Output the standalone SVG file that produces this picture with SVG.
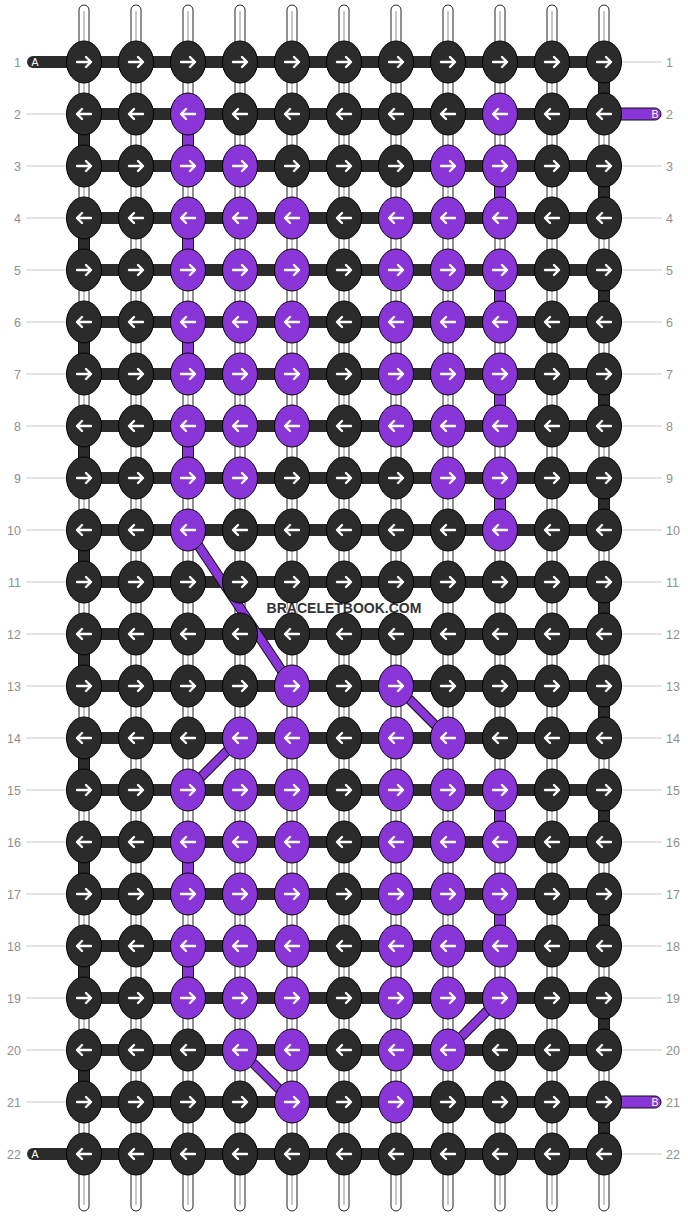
<svg xmlns="http://www.w3.org/2000/svg" width="688" height="1216" viewBox="0 0 688 1216">
<style>
.st{fill:#fff;stroke:#222;stroke-width:1}
.sl{stroke:#c8c8c8;stroke-width:2}
.bar{fill:#2b2b2b}
.vd{fill:#2b2b2b;stroke:#111;stroke-width:1}
.vp{fill:#8a35d8;stroke:#111;stroke-width:1}
.dgo{stroke:#111;stroke-width:10;stroke-linecap:butt}
.dgi{stroke:#8a35d8;stroke-width:8;stroke-linecap:butt}
.kd{fill:#2b2b2b;stroke:#000;stroke-width:1}
.kp{fill:#8a35d8;stroke:#000;stroke-width:1}
.ar{fill:none;stroke:#fff;stroke-width:2.4;stroke-linecap:round;stroke-linejoin:round}
.lab{font-family:"Liberation Sans",Arial,sans-serif;font-size:12.5px;fill:#909090}
.ll{stroke:#c8c8c8;stroke-width:1}
.tab{font-family:"Liberation Sans",Arial,sans-serif;font-size:10.5px;fill:#fff}
.wm{font-family:"Liberation Sans",Arial,sans-serif;font-size:14px;font-weight:bold;fill:#333;stroke:#fff;stroke-width:2;paint-order:stroke;text-anchor:middle}
</style>
<defs>
<g id="dR"><ellipse rx="17.5" ry="21" class="kd"/><path class="ar" d="M-7,0H7M2,-5L7,0L2,5"/></g>
<g id="dL"><ellipse rx="17.5" ry="21" class="kd"/><path class="ar" d="M7,0H-7M-2,-5L-7,0L-2,5"/></g>
<g id="pR"><ellipse rx="17.5" ry="21" class="kp"/><path class="ar" d="M-7,0H7M2,-5L7,0L2,5"/></g>
<g id="pL"><ellipse rx="17.5" ry="21" class="kp"/><path class="ar" d="M7,0H-7M-2,-5L-7,0L-2,5"/></g>
</defs>
<rect width="688" height="1216" fill="#fff"/>
<g id="labels">
<g class="ll">
<line x1="26" y1="114" x2="66" y2="114"/><line x1="26" y1="166" x2="66" y2="166"/><line x1="26" y1="218" x2="66" y2="218"/><line x1="26" y1="270" x2="66" y2="270"/><line x1="26" y1="322" x2="66" y2="322"/><line x1="26" y1="374" x2="66" y2="374"/><line x1="26" y1="426" x2="66" y2="426"/><line x1="26" y1="478" x2="66" y2="478"/><line x1="26" y1="530" x2="66" y2="530"/><line x1="26" y1="582" x2="66" y2="582"/><line x1="26" y1="634" x2="66" y2="634"/><line x1="26" y1="686" x2="66" y2="686"/><line x1="26" y1="738" x2="66" y2="738"/><line x1="26" y1="790" x2="66" y2="790"/><line x1="26" y1="842" x2="66" y2="842"/><line x1="26" y1="894" x2="66" y2="894"/><line x1="26" y1="946" x2="66" y2="946"/><line x1="26" y1="998" x2="66" y2="998"/><line x1="26" y1="1050" x2="66" y2="1050"/><line x1="26" y1="1102" x2="66" y2="1102"/>
<line x1="622" y1="62" x2="662" y2="62"/><line x1="622" y1="166" x2="662" y2="166"/><line x1="622" y1="218" x2="662" y2="218"/><line x1="622" y1="270" x2="662" y2="270"/><line x1="622" y1="322" x2="662" y2="322"/><line x1="622" y1="374" x2="662" y2="374"/><line x1="622" y1="426" x2="662" y2="426"/><line x1="622" y1="478" x2="662" y2="478"/><line x1="622" y1="530" x2="662" y2="530"/><line x1="622" y1="582" x2="662" y2="582"/><line x1="622" y1="634" x2="662" y2="634"/><line x1="622" y1="686" x2="662" y2="686"/><line x1="622" y1="738" x2="662" y2="738"/><line x1="622" y1="790" x2="662" y2="790"/><line x1="622" y1="842" x2="662" y2="842"/><line x1="622" y1="894" x2="662" y2="894"/><line x1="622" y1="946" x2="662" y2="946"/><line x1="622" y1="998" x2="662" y2="998"/><line x1="622" y1="1050" x2="662" y2="1050"/><line x1="622" y1="1154" x2="662" y2="1154"/>
</g>
<g class="lab" text-anchor="end">
<text x="21" y="66.5">1</text><text x="21" y="118.5">2</text><text x="21" y="170.5">3</text><text x="21" y="222.5">4</text><text x="21" y="274.5">5</text><text x="21" y="326.5">6</text><text x="21" y="378.5">7</text><text x="21" y="430.5">8</text><text x="21" y="482.5">9</text><text x="21" y="534.5">10</text><text x="21" y="586.5">11</text><text x="21" y="638.5">12</text><text x="21" y="690.5">13</text><text x="21" y="742.5">14</text><text x="21" y="794.5">15</text><text x="21" y="846.5">16</text><text x="21" y="898.5">17</text><text x="21" y="950.5">18</text><text x="21" y="1002.5">19</text><text x="21" y="1054.5">20</text><text x="21" y="1106.5">21</text><text x="21" y="1158.5">22</text>
</g>
<g class="lab" text-anchor="start">
<text x="666" y="66.5">1</text><text x="666" y="118.5">2</text><text x="666" y="170.5">3</text><text x="666" y="222.5">4</text><text x="666" y="274.5">5</text><text x="666" y="326.5">6</text><text x="666" y="378.5">7</text><text x="666" y="430.5">8</text><text x="666" y="482.5">9</text><text x="666" y="534.5">10</text><text x="666" y="586.5">11</text><text x="666" y="638.5">12</text><text x="666" y="690.5">13</text><text x="666" y="742.5">14</text><text x="666" y="794.5">15</text><text x="666" y="846.5">16</text><text x="666" y="898.5">17</text><text x="666" y="950.5">18</text><text x="666" y="1002.5">19</text><text x="666" y="1054.5">20</text><text x="666" y="1106.5">21</text><text x="666" y="1158.5">22</text>
</g>
</g>
<g id="strands">
<rect class="st" x="79" y="5" width="10" height="1206" rx="5"/><rect class="st" x="131" y="5" width="10" height="1206" rx="5"/><rect class="st" x="183" y="5" width="10" height="1206" rx="5"/><rect class="st" x="235" y="5" width="10" height="1206" rx="5"/><rect class="st" x="287" y="5" width="10" height="1206" rx="5"/><rect class="st" x="339" y="5" width="10" height="1206" rx="5"/><rect class="st" x="391" y="5" width="10" height="1206" rx="5"/><rect class="st" x="443" y="5" width="10" height="1206" rx="5"/><rect class="st" x="495" y="5" width="10" height="1206" rx="5"/><rect class="st" x="547" y="5" width="10" height="1206" rx="5"/><rect class="st" x="599" y="5" width="10" height="1206" rx="5"/>
<g class="sl"><line x1="84" y1="11" x2="84" y2="1205"/><line x1="136" y1="11" x2="136" y2="1205"/><line x1="188" y1="11" x2="188" y2="1205"/><line x1="240" y1="11" x2="240" y2="1205"/><line x1="292" y1="11" x2="292" y2="1205"/><line x1="344" y1="11" x2="344" y2="1205"/><line x1="396" y1="11" x2="396" y2="1205"/><line x1="448" y1="11" x2="448" y2="1205"/><line x1="500" y1="11" x2="500" y2="1205"/><line x1="552" y1="11" x2="552" y2="1205"/><line x1="604" y1="11" x2="604" y2="1205"/></g>
</g>
<g id="connectors">
<g class="bar">
<rect x="84" y="56" width="520" height="12"/><rect x="84" y="108" width="520" height="12"/><rect x="84" y="160" width="520" height="12"/><rect x="84" y="212" width="520" height="12"/><rect x="84" y="264" width="520" height="12"/><rect x="84" y="316" width="520" height="12"/><rect x="84" y="368" width="520" height="12"/><rect x="84" y="420" width="520" height="12"/><rect x="84" y="472" width="520" height="12"/><rect x="84" y="524" width="520" height="12"/><rect x="84" y="576" width="520" height="12"/><rect x="84" y="628" width="520" height="12"/><rect x="84" y="680" width="520" height="12"/><rect x="84" y="732" width="520" height="12"/><rect x="84" y="784" width="520" height="12"/><rect x="84" y="836" width="520" height="12"/><rect x="84" y="888" width="520" height="12"/><rect x="84" y="940" width="520" height="12"/><rect x="84" y="992" width="520" height="12"/><rect x="84" y="1044" width="520" height="12"/><rect x="84" y="1096" width="520" height="12"/><rect x="84" y="1148" width="520" height="12"/>
</g>
<g id="tabA1"><rect class="bar" x="27" y="56" width="70" height="12" rx="6"/><text class="tab" x="31.5" y="65.8">A</text></g>
<g id="tabA22"><rect class="bar" x="27" y="1148" width="70" height="12" rx="6"/><text class="tab" x="31.5" y="1157.8">A</text></g>
<g id="tabB2"><rect class="vp" x="590" y="108" width="71" height="12" rx="6"/><text class="tab" x="651.5" y="117.8">B</text></g>
<g id="tabB21"><rect class="vp" x="590" y="1096" width="71" height="12" rx="6"/><text class="tab" x="651.5" y="1105.8">B</text></g>
<g class="vd">
<rect x="598.5" y="62" width="11" height="52"/><rect x="598.5" y="166" width="11" height="52"/><rect x="598.5" y="270" width="11" height="52"/><rect x="598.5" y="374" width="11" height="52"/><rect x="598.5" y="478" width="11" height="52"/><rect x="598.5" y="582" width="11" height="52"/><rect x="598.5" y="686" width="11" height="52"/><rect x="598.5" y="790" width="11" height="52"/><rect x="598.5" y="894" width="11" height="52"/><rect x="598.5" y="998" width="11" height="52"/><rect x="598.5" y="1102" width="11" height="52"/>
<rect x="78.5" y="114" width="11" height="52"/><rect x="78.5" y="218" width="11" height="52"/><rect x="78.5" y="322" width="11" height="52"/><rect x="78.5" y="426" width="11" height="52"/><rect x="78.5" y="530" width="11" height="52"/><rect x="78.5" y="634" width="11" height="52"/><rect x="78.5" y="738" width="11" height="52"/><rect x="78.5" y="842" width="11" height="52"/><rect x="78.5" y="946" width="11" height="52"/><rect x="78.5" y="1050" width="11" height="52"/>
</g>
<g class="vp">
<rect x="182.5" y="114" width="11" height="52"/><rect x="182.5" y="218" width="11" height="52"/><rect x="182.5" y="322" width="11" height="52"/><rect x="182.5" y="426" width="11" height="52"/>
<rect x="494.5" y="166" width="11" height="52"/><rect x="494.5" y="270" width="11" height="52"/><rect x="494.5" y="374" width="11" height="52"/><rect x="494.5" y="478" width="11" height="52"/>
<rect x="494.5" y="790" width="11" height="52"/><rect x="182.5" y="842" width="11" height="52"/><rect x="494.5" y="894" width="11" height="52"/><rect x="182.5" y="946" width="11" height="52"/>
</g>
<g class="dgo">
<line x1="188" y1="530" x2="292" y2="686"/><line x1="396" y1="686" x2="448" y2="738"/><line x1="240" y1="738" x2="188" y2="790"/><line x1="500" y1="998" x2="448" y2="1050"/><line x1="240" y1="1050" x2="292" y2="1102"/>
</g>
<g class="dgi">
<line x1="188" y1="530" x2="292" y2="686"/><line x1="396" y1="686" x2="448" y2="738"/><line x1="240" y1="738" x2="188" y2="790"/><line x1="500" y1="998" x2="448" y2="1050"/><line x1="240" y1="1050" x2="292" y2="1102"/>
</g>
</g>
<text class="wm" x="344" y="613">BRACELETBOOK.COM</text>
<g id="nodes">
<g id="n1-1"><use href="#dR" x="84" y="62"/></g><g id="n1-2"><use href="#dR" x="136" y="62"/></g><g id="n1-3"><use href="#dR" x="188" y="62"/></g><g id="n1-4"><use href="#dR" x="240" y="62"/></g><g id="n1-5"><use href="#dR" x="292" y="62"/></g><g id="n1-6"><use href="#dR" x="344" y="62"/></g><g id="n1-7"><use href="#dR" x="396" y="62"/></g><g id="n1-8"><use href="#dR" x="448" y="62"/></g><g id="n1-9"><use href="#dR" x="500" y="62"/></g><g id="n1-10"><use href="#dR" x="552" y="62"/></g><g id="n1-11"><use href="#dR" x="604" y="62"/></g>
<g id="n2-1"><use href="#dL" x="84" y="114"/></g><g id="n2-2"><use href="#dL" x="136" y="114"/></g><g id="n2-3"><use href="#pL" x="188" y="114"/></g><g id="n2-4"><use href="#dL" x="240" y="114"/></g><g id="n2-5"><use href="#dL" x="292" y="114"/></g><g id="n2-6"><use href="#dL" x="344" y="114"/></g><g id="n2-7"><use href="#dL" x="396" y="114"/></g><g id="n2-8"><use href="#dL" x="448" y="114"/></g><g id="n2-9"><use href="#pL" x="500" y="114"/></g><g id="n2-10"><use href="#dL" x="552" y="114"/></g><g id="n2-11"><use href="#dL" x="604" y="114"/></g>
<g id="n3-1"><use href="#dR" x="84" y="166"/></g><g id="n3-2"><use href="#dR" x="136" y="166"/></g><g id="n3-3"><use href="#pR" x="188" y="166"/></g><g id="n3-4"><use href="#pR" x="240" y="166"/></g><g id="n3-5"><use href="#dR" x="292" y="166"/></g><g id="n3-6"><use href="#dR" x="344" y="166"/></g><g id="n3-7"><use href="#dR" x="396" y="166"/></g><g id="n3-8"><use href="#pR" x="448" y="166"/></g><g id="n3-9"><use href="#pR" x="500" y="166"/></g><g id="n3-10"><use href="#dR" x="552" y="166"/></g><g id="n3-11"><use href="#dR" x="604" y="166"/></g>
<g id="n4-1"><use href="#dL" x="84" y="218"/></g><g id="n4-2"><use href="#dL" x="136" y="218"/></g><g id="n4-3"><use href="#pL" x="188" y="218"/></g><g id="n4-4"><use href="#pL" x="240" y="218"/></g><g id="n4-5"><use href="#pL" x="292" y="218"/></g><g id="n4-6"><use href="#dL" x="344" y="218"/></g><g id="n4-7"><use href="#pL" x="396" y="218"/></g><g id="n4-8"><use href="#pL" x="448" y="218"/></g><g id="n4-9"><use href="#pL" x="500" y="218"/></g><g id="n4-10"><use href="#dL" x="552" y="218"/></g><g id="n4-11"><use href="#dL" x="604" y="218"/></g>
<g id="n5-1"><use href="#dR" x="84" y="270"/></g><g id="n5-2"><use href="#dR" x="136" y="270"/></g><g id="n5-3"><use href="#pR" x="188" y="270"/></g><g id="n5-4"><use href="#pR" x="240" y="270"/></g><g id="n5-5"><use href="#pR" x="292" y="270"/></g><g id="n5-6"><use href="#dR" x="344" y="270"/></g><g id="n5-7"><use href="#pR" x="396" y="270"/></g><g id="n5-8"><use href="#pR" x="448" y="270"/></g><g id="n5-9"><use href="#pR" x="500" y="270"/></g><g id="n5-10"><use href="#dR" x="552" y="270"/></g><g id="n5-11"><use href="#dR" x="604" y="270"/></g>
<g id="n6-1"><use href="#dL" x="84" y="322"/></g><g id="n6-2"><use href="#dL" x="136" y="322"/></g><g id="n6-3"><use href="#pL" x="188" y="322"/></g><g id="n6-4"><use href="#pL" x="240" y="322"/></g><g id="n6-5"><use href="#pL" x="292" y="322"/></g><g id="n6-6"><use href="#dL" x="344" y="322"/></g><g id="n6-7"><use href="#pL" x="396" y="322"/></g><g id="n6-8"><use href="#pL" x="448" y="322"/></g><g id="n6-9"><use href="#pL" x="500" y="322"/></g><g id="n6-10"><use href="#dL" x="552" y="322"/></g><g id="n6-11"><use href="#dL" x="604" y="322"/></g>
<g id="n7-1"><use href="#dR" x="84" y="374"/></g><g id="n7-2"><use href="#dR" x="136" y="374"/></g><g id="n7-3"><use href="#pR" x="188" y="374"/></g><g id="n7-4"><use href="#pR" x="240" y="374"/></g><g id="n7-5"><use href="#pR" x="292" y="374"/></g><g id="n7-6"><use href="#dR" x="344" y="374"/></g><g id="n7-7"><use href="#pR" x="396" y="374"/></g><g id="n7-8"><use href="#pR" x="448" y="374"/></g><g id="n7-9"><use href="#pR" x="500" y="374"/></g><g id="n7-10"><use href="#dR" x="552" y="374"/></g><g id="n7-11"><use href="#dR" x="604" y="374"/></g>
<g id="n8-1"><use href="#dL" x="84" y="426"/></g><g id="n8-2"><use href="#dL" x="136" y="426"/></g><g id="n8-3"><use href="#pL" x="188" y="426"/></g><g id="n8-4"><use href="#pL" x="240" y="426"/></g><g id="n8-5"><use href="#pL" x="292" y="426"/></g><g id="n8-6"><use href="#dL" x="344" y="426"/></g><g id="n8-7"><use href="#pL" x="396" y="426"/></g><g id="n8-8"><use href="#pL" x="448" y="426"/></g><g id="n8-9"><use href="#pL" x="500" y="426"/></g><g id="n8-10"><use href="#dL" x="552" y="426"/></g><g id="n8-11"><use href="#dL" x="604" y="426"/></g>
<g id="n9-1"><use href="#dR" x="84" y="478"/></g><g id="n9-2"><use href="#dR" x="136" y="478"/></g><g id="n9-3"><use href="#pR" x="188" y="478"/></g><g id="n9-4"><use href="#pR" x="240" y="478"/></g><g id="n9-5"><use href="#dR" x="292" y="478"/></g><g id="n9-6"><use href="#dR" x="344" y="478"/></g><g id="n9-7"><use href="#dR" x="396" y="478"/></g><g id="n9-8"><use href="#pR" x="448" y="478"/></g><g id="n9-9"><use href="#pR" x="500" y="478"/></g><g id="n9-10"><use href="#dR" x="552" y="478"/></g><g id="n9-11"><use href="#dR" x="604" y="478"/></g>
<g id="n10-1"><use href="#dL" x="84" y="530"/></g><g id="n10-2"><use href="#dL" x="136" y="530"/></g><g id="n10-3"><use href="#pL" x="188" y="530"/></g><g id="n10-4"><use href="#dL" x="240" y="530"/></g><g id="n10-5"><use href="#dL" x="292" y="530"/></g><g id="n10-6"><use href="#dL" x="344" y="530"/></g><g id="n10-7"><use href="#dL" x="396" y="530"/></g><g id="n10-8"><use href="#dL" x="448" y="530"/></g><g id="n10-9"><use href="#pL" x="500" y="530"/></g><g id="n10-10"><use href="#dL" x="552" y="530"/></g><g id="n10-11"><use href="#dL" x="604" y="530"/></g>
<g id="n11-1"><use href="#dR" x="84" y="582"/></g><g id="n11-2"><use href="#dR" x="136" y="582"/></g><g id="n11-3"><use href="#dR" x="188" y="582"/></g><g id="n11-4"><use href="#dR" x="240" y="582"/></g><g id="n11-5"><use href="#dR" x="292" y="582"/></g><g id="n11-6"><use href="#dR" x="344" y="582"/></g><g id="n11-7"><use href="#dR" x="396" y="582"/></g><g id="n11-8"><use href="#dR" x="448" y="582"/></g><g id="n11-9"><use href="#dR" x="500" y="582"/></g><g id="n11-10"><use href="#dR" x="552" y="582"/></g><g id="n11-11"><use href="#dR" x="604" y="582"/></g>
<g id="n12-1"><use href="#dL" x="84" y="634"/></g><g id="n12-2"><use href="#dL" x="136" y="634"/></g><g id="n12-3"><use href="#dL" x="188" y="634"/></g><g id="n12-4"><use href="#dL" x="240" y="634"/></g><g id="n12-5"><use href="#dL" x="292" y="634"/></g><g id="n12-6"><use href="#dL" x="344" y="634"/></g><g id="n12-7"><use href="#dL" x="396" y="634"/></g><g id="n12-8"><use href="#dL" x="448" y="634"/></g><g id="n12-9"><use href="#dL" x="500" y="634"/></g><g id="n12-10"><use href="#dL" x="552" y="634"/></g><g id="n12-11"><use href="#dL" x="604" y="634"/></g>
<g id="n13-1"><use href="#dR" x="84" y="686"/></g><g id="n13-2"><use href="#dR" x="136" y="686"/></g><g id="n13-3"><use href="#dR" x="188" y="686"/></g><g id="n13-4"><use href="#dR" x="240" y="686"/></g><g id="n13-5"><use href="#pR" x="292" y="686"/></g><g id="n13-6"><use href="#dR" x="344" y="686"/></g><g id="n13-7"><use href="#pR" x="396" y="686"/></g><g id="n13-8"><use href="#dR" x="448" y="686"/></g><g id="n13-9"><use href="#dR" x="500" y="686"/></g><g id="n13-10"><use href="#dR" x="552" y="686"/></g><g id="n13-11"><use href="#dR" x="604" y="686"/></g>
<g id="n14-1"><use href="#dL" x="84" y="738"/></g><g id="n14-2"><use href="#dL" x="136" y="738"/></g><g id="n14-3"><use href="#dL" x="188" y="738"/></g><g id="n14-4"><use href="#pL" x="240" y="738"/></g><g id="n14-5"><use href="#pL" x="292" y="738"/></g><g id="n14-6"><use href="#dL" x="344" y="738"/></g><g id="n14-7"><use href="#pL" x="396" y="738"/></g><g id="n14-8"><use href="#pL" x="448" y="738"/></g><g id="n14-9"><use href="#dL" x="500" y="738"/></g><g id="n14-10"><use href="#dL" x="552" y="738"/></g><g id="n14-11"><use href="#dL" x="604" y="738"/></g>
<g id="n15-1"><use href="#dR" x="84" y="790"/></g><g id="n15-2"><use href="#dR" x="136" y="790"/></g><g id="n15-3"><use href="#pR" x="188" y="790"/></g><g id="n15-4"><use href="#pR" x="240" y="790"/></g><g id="n15-5"><use href="#pR" x="292" y="790"/></g><g id="n15-6"><use href="#dR" x="344" y="790"/></g><g id="n15-7"><use href="#pR" x="396" y="790"/></g><g id="n15-8"><use href="#pR" x="448" y="790"/></g><g id="n15-9"><use href="#pR" x="500" y="790"/></g><g id="n15-10"><use href="#dR" x="552" y="790"/></g><g id="n15-11"><use href="#dR" x="604" y="790"/></g>
<g id="n16-1"><use href="#dL" x="84" y="842"/></g><g id="n16-2"><use href="#dL" x="136" y="842"/></g><g id="n16-3"><use href="#pL" x="188" y="842"/></g><g id="n16-4"><use href="#pL" x="240" y="842"/></g><g id="n16-5"><use href="#pL" x="292" y="842"/></g><g id="n16-6"><use href="#dL" x="344" y="842"/></g><g id="n16-7"><use href="#pL" x="396" y="842"/></g><g id="n16-8"><use href="#pL" x="448" y="842"/></g><g id="n16-9"><use href="#pL" x="500" y="842"/></g><g id="n16-10"><use href="#dL" x="552" y="842"/></g><g id="n16-11"><use href="#dL" x="604" y="842"/></g>
<g id="n17-1"><use href="#dR" x="84" y="894"/></g><g id="n17-2"><use href="#dR" x="136" y="894"/></g><g id="n17-3"><use href="#pR" x="188" y="894"/></g><g id="n17-4"><use href="#pR" x="240" y="894"/></g><g id="n17-5"><use href="#pR" x="292" y="894"/></g><g id="n17-6"><use href="#dR" x="344" y="894"/></g><g id="n17-7"><use href="#pR" x="396" y="894"/></g><g id="n17-8"><use href="#pR" x="448" y="894"/></g><g id="n17-9"><use href="#pR" x="500" y="894"/></g><g id="n17-10"><use href="#dR" x="552" y="894"/></g><g id="n17-11"><use href="#dR" x="604" y="894"/></g>
<g id="n18-1"><use href="#dL" x="84" y="946"/></g><g id="n18-2"><use href="#dL" x="136" y="946"/></g><g id="n18-3"><use href="#pL" x="188" y="946"/></g><g id="n18-4"><use href="#pL" x="240" y="946"/></g><g id="n18-5"><use href="#pL" x="292" y="946"/></g><g id="n18-6"><use href="#dL" x="344" y="946"/></g><g id="n18-7"><use href="#pL" x="396" y="946"/></g><g id="n18-8"><use href="#pL" x="448" y="946"/></g><g id="n18-9"><use href="#pL" x="500" y="946"/></g><g id="n18-10"><use href="#dL" x="552" y="946"/></g><g id="n18-11"><use href="#dL" x="604" y="946"/></g>
<g id="n19-1"><use href="#dR" x="84" y="998"/></g><g id="n19-2"><use href="#dR" x="136" y="998"/></g><g id="n19-3"><use href="#pR" x="188" y="998"/></g><g id="n19-4"><use href="#pR" x="240" y="998"/></g><g id="n19-5"><use href="#pR" x="292" y="998"/></g><g id="n19-6"><use href="#dR" x="344" y="998"/></g><g id="n19-7"><use href="#pR" x="396" y="998"/></g><g id="n19-8"><use href="#pR" x="448" y="998"/></g><g id="n19-9"><use href="#pR" x="500" y="998"/></g><g id="n19-10"><use href="#dR" x="552" y="998"/></g><g id="n19-11"><use href="#dR" x="604" y="998"/></g>
<g id="n20-1"><use href="#dL" x="84" y="1050"/></g><g id="n20-2"><use href="#dL" x="136" y="1050"/></g><g id="n20-3"><use href="#dL" x="188" y="1050"/></g><g id="n20-4"><use href="#pL" x="240" y="1050"/></g><g id="n20-5"><use href="#pL" x="292" y="1050"/></g><g id="n20-6"><use href="#dL" x="344" y="1050"/></g><g id="n20-7"><use href="#pL" x="396" y="1050"/></g><g id="n20-8"><use href="#pL" x="448" y="1050"/></g><g id="n20-9"><use href="#dL" x="500" y="1050"/></g><g id="n20-10"><use href="#dL" x="552" y="1050"/></g><g id="n20-11"><use href="#dL" x="604" y="1050"/></g>
<g id="n21-1"><use href="#dR" x="84" y="1102"/></g><g id="n21-2"><use href="#dR" x="136" y="1102"/></g><g id="n21-3"><use href="#dR" x="188" y="1102"/></g><g id="n21-4"><use href="#dR" x="240" y="1102"/></g><g id="n21-5"><use href="#pR" x="292" y="1102"/></g><g id="n21-6"><use href="#dR" x="344" y="1102"/></g><g id="n21-7"><use href="#pR" x="396" y="1102"/></g><g id="n21-8"><use href="#dR" x="448" y="1102"/></g><g id="n21-9"><use href="#dR" x="500" y="1102"/></g><g id="n21-10"><use href="#dR" x="552" y="1102"/></g><g id="n21-11"><use href="#dR" x="604" y="1102"/></g>
<g id="n22-1"><use href="#dL" x="84" y="1154"/></g><g id="n22-2"><use href="#dL" x="136" y="1154"/></g><g id="n22-3"><use href="#dL" x="188" y="1154"/></g><g id="n22-4"><use href="#dL" x="240" y="1154"/></g><g id="n22-5"><use href="#dL" x="292" y="1154"/></g><g id="n22-6"><use href="#dL" x="344" y="1154"/></g><g id="n22-7"><use href="#dL" x="396" y="1154"/></g><g id="n22-8"><use href="#dL" x="448" y="1154"/></g><g id="n22-9"><use href="#dL" x="500" y="1154"/></g><g id="n22-10"><use href="#dL" x="552" y="1154"/></g><g id="n22-11"><use href="#dL" x="604" y="1154"/></g>
</g>
</svg>
